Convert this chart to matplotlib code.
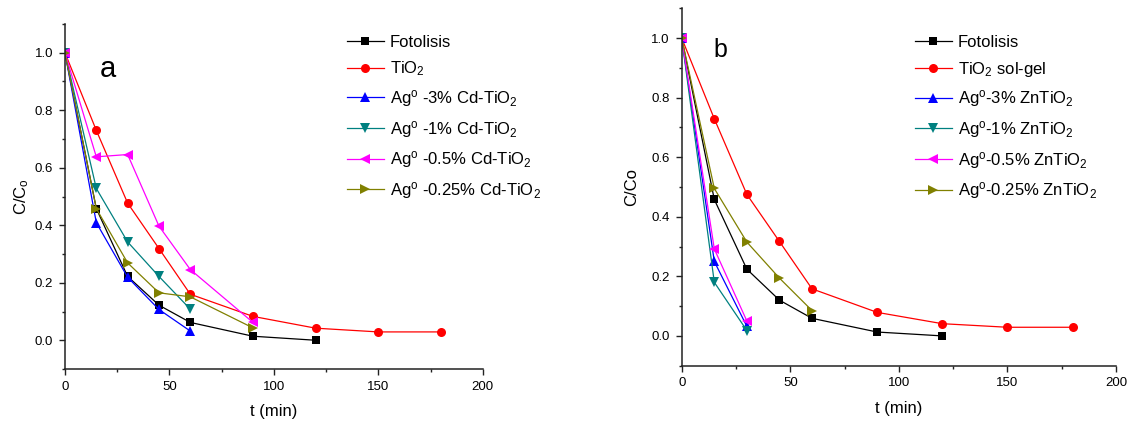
import matplotlib
matplotlib.use("Agg")
import matplotlib.pyplot as plt
from matplotlib.ticker import MultipleLocator

plt.rcParams['font.family'] = ['Liberation Sans', 'DejaVu Sans']
plt.rcParams['mathtext.fontset'] = 'custom'
plt.rcParams['mathtext.rm'] = 'Liberation Sans'
plt.rcParams['mathtext.it'] = 'Liberation Sans:italic'
plt.rcParams['mathtext.bf'] = 'Liberation Sans:bold'

# ---- panel (a): Cd-TiO2 catalysts ----
t_a_foto = [0, 15, 30, 45, 60, 90, 120]
c_a_foto = [1.0, 0.458, 0.222, 0.122, 0.062, 0.014, 0.0]
t_a_tio2 = [0, 15, 30, 45, 60, 90, 120, 150, 180]
c_a_tio2 = [1.0, 0.730, 0.477, 0.319, 0.160, 0.083, 0.042, 0.029, 0.029]
t_a_ag3 = [0, 15, 30, 45, 60]
c_a_ag3 = [1.0, 0.409, 0.219, 0.107, 0.032]
t_a_ag1 = [0, 15, 30, 45, 60]
c_a_ag1 = [1.0, 0.528, 0.342, 0.222, 0.108]
t_a_ag05 = [0, 15, 30, 45, 60, 90]
c_a_ag05 = [1.0, 0.638, 0.646, 0.397, 0.246, 0.062]
t_a_ag025 = [0, 15, 30, 45, 60, 90]
c_a_ag025 = [1.0, 0.458, 0.269, 0.165, 0.151, 0.043]

# ---- panel (b): ZnTiO2 catalysts ----
t_b_foto = [0, 15, 30, 45, 60, 90, 120]
c_b_foto = [1.0, 0.458, 0.224, 0.120, 0.059, 0.013, 0.0]
t_b_tio2 = [0, 15, 30, 45, 60, 90, 120, 150, 180]
c_b_tio2 = [1.0, 0.729, 0.475, 0.317, 0.158, 0.079, 0.041, 0.029, 0.029]
t_b_ag3 = [0, 15, 30]
c_b_ag3 = [1.0, 0.250, 0.032]
t_b_ag1 = [0, 15, 30]
c_b_ag1 = [1.0, 0.180, 0.018]
t_b_ag05 = [0, 15, 30]
c_b_ag05 = [1.0, 0.292, 0.050]
t_b_ag025 = [0, 15, 30, 45, 60]
c_b_ag025 = [1.0, 0.495, 0.315, 0.194, 0.085]

labels_a = ["Fotolisis", r"TiO$_2$",
            r"Ag$^{\mathrm{o}}$ -3% Cd-TiO$_2$",
            r"Ag$^{\mathrm{o}}$ -1% Cd-TiO$_2$",
            r"Ag$^{\mathrm{o}}$ -0.5% Cd-TiO$_2$",
            r"Ag$^{\mathrm{o}}$ -0.25% Cd-TiO$_2$"]
labels_b = ["Fotolisis", r"TiO$_2$ sol-gel",
            r"Ag$^{\mathrm{o}}$-3% ZnTiO$_2$",
            r"Ag$^{\mathrm{o}}$-1% ZnTiO$_2$",
            r"Ag$^{\mathrm{o}}$-0.5% ZnTiO$_2$",
            r"Ag$^{\mathrm{o}}$-0.25% ZnTiO$_2$"]

colors = ["#000000", "#FF0000", "#0000FF", "#008080", "#FF00FF", "#808000"]
markers = ["s", "o", "^", "v", "<", ">"]
msizes = [5.8, 6.5, 7.5, 7.5, 7.5, 7.5]

fig = plt.figure(figsize=(11.3, 4.21), dpi=100)
ax_a = fig.add_axes([0.0575, 0.1235, 0.3697, 0.8195])
ax_b = fig.add_axes([0.6033, 0.1314, 0.3843, 0.8489])

series_a = [(t_a_foto, c_a_foto), (t_a_tio2, c_a_tio2), (t_a_ag3, c_a_ag3),
            (t_a_ag1, c_a_ag1), (t_a_ag05, c_a_ag05), (t_a_ag025, c_a_ag025)]
series_b = [(t_b_foto, c_b_foto), (t_b_tio2, c_b_tio2), (t_b_ag3, c_b_ag3),
            (t_b_ag1, c_b_ag1), (t_b_ag05, c_b_ag05), (t_b_ag025, c_b_ag025)]


def draw_panel(ax, series, labels, ylabel, ylabelpad, letter, letter_xy,
               letter_size, leg_anchor):
    for (t, c), lab, col, mk, ms in zip(series, labels, colors, markers, msizes):
        ax.plot(t, c, color=col, marker=mk, markersize=ms, linewidth=0.9,
                markeredgewidth=0, label=lab)
    ax.set_xlim(0, 200)
    ax.set_ylim(-0.1, 1.1)
    ax.xaxis.set_major_locator(MultipleLocator(50))
    ax.xaxis.set_minor_locator(MultipleLocator(25))
    ax.yaxis.set_minor_locator(MultipleLocator(0.1))
    ax.set_yticks([0.0, 0.2, 0.4, 0.6, 0.8, 1.0])
    ax.yaxis.set_major_formatter(plt.FormatStrFormatter('%.1f'))
    for s in ("top", "right"):
        ax.spines[s].set_visible(False)
    for s in ("left", "bottom"):
        ax.spines[s].set_linewidth(1.1)
        ax.spines[s].set_color("#222222")
    ax.tick_params(which="major", direction="out", length=4, width=1.0,
                   labelsize=9.5, pad=4.5, color="#222222")
    ax.tick_params(which="minor", direction="out", length=2.2, width=1.0,
                   color="#222222")
    ax.set_xlabel("t (min)", fontsize=12, labelpad=8)
    ax.set_ylabel(ylabel, fontsize=12, labelpad=ylabelpad)
    ax.text(letter_xy[0], letter_xy[1], letter, fontsize=letter_size,
            ha="center", va="baseline")
    ax.legend(loc="upper left", bbox_to_anchor=leg_anchor,
              bbox_transform=fig.transFigure, frameon=False,
              fontsize=12, handlelength=2.2, handletextpad=0.35,
              labelspacing=0.58, borderpad=0, borderaxespad=0)


draw_panel(ax_a, series_a, labels_a, r"C/C$_\mathrm{o}$", 3, "a", (20.5, 0.915), 21,
           (347 / 1130, 1 - 35 / 421))
draw_panel(ax_b, series_b, labels_b, "C/Co", 9, "b", (17.6, 0.935), 18,
           (915 / 1130, 1 - 35 / 421))

fig.savefig("out.png", dpi=100)
